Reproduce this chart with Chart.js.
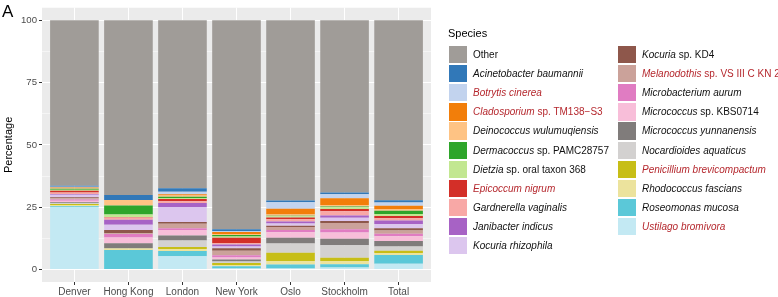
<!DOCTYPE html>
<html>
<head>
<meta charset="utf-8">
<script src="https://cdn.jsdelivr.net/npm/chart.js@4/dist/chart.umd.min.js"></script>
<style>
  body { margin: 0; background: #fff; }
  #wrap { position: relative; width: 778px; height: 297px; overflow: hidden; background: #fff; font-family: "Liberation Sans", Arial, sans-serif; }
  #c { position: absolute; left: 0; top: 0; }
  #tag { position: absolute; left: 2px; top: 2.6px; font-size: 17px; line-height: 1; color: #000; }
  #legTitle { position: absolute; left: 448px; top: 27.7px; font-size: 11px; line-height: 1; color: #000; }
  .key { position: absolute; width: 17.5px; height: 17.3px; }
  .lab { position: absolute; height: 17.3px; line-height: 17.3px; font-size: 10px; white-space: nowrap; color: #111; }
  .lab.red { color: #B5282E; }
</style>
</head>
<body>
<div id="wrap">
  <canvas id="c" width="778" height="297"></canvas>
  <div id="tag">A</div>
  <div id="legTitle">Species</div>
</div>
<script>
// ---- data ----
const cities = ['Denver', 'Hong Kong', 'London', 'New York', 'Oslo', 'Stockholm', 'Total'];
const yTicks = [0, 25, 50, 75, 100];

const other                  = [66.4, 70.1, 67.4, 83.8, 72.3, 69.1, 72.2];
const acinetobacter          = [0.4, 2.0, 1.4, 0.8, 0.7, 0.7, 0.9];
const botrytis               = [0.3, 0.0, 1.0, 0.3, 2.6, 1.6, 1.3];
const cladosporium           = [0.3, 0.0, 0.5, 0.8, 2.3, 2.7, 1.3];
const deinococcus            = [0.2, 2.2, 0.5, 0.4, 0.5, 0.6, 0.7];
const dermacoccus            = [0.4, 3.6, 0.5, 0.6, 0.2, 0.3, 1.3];
const dietzia                = [0.4, 1.0, 0.4, 0.6, 0.5, 0.7, 0.8];
const epicoccum              = [0.7, 0.2, 0.9, 2.2, 0.7, 0.9, 0.9];
const gardnerella            = [0.6, 0.9, 0.7, 0.5, 0.9, 1.7, 0.9];
const janibacter             = [0.3, 2.0, 1.6, 0.8, 0.8, 0.9, 1.4];
const kocuriaRhizophila      = [1.0, 2.1, 6.0, 0.7, 0.9, 1.3, 1.7];
const kocuriaKD4             = [0.4, 1.3, 0.7, 1.0, 0.5, 0.8, 0.9];
const melanodothis           = [0.5, 0.3, 1.8, 1.8, 1.2, 2.5, 1.3];
const microbacterium         = [0.5, 1.5, 0.7, 0.9, 0.9, 1.3, 1.0];
const micrococcusKBS         = [0.6, 2.3, 2.2, 0.8, 2.3, 2.6, 2.0];
const micrococcusYunnanensis = [0.3, 1.9, 2.1, 0.8, 2.3, 2.6, 2.2];
const nocardioides           = [0.4, 0.3, 2.6, 0.6, 3.7, 5.0, 1.7];
const penicillium            = [0.4, 0.2, 0.8, 0.8, 3.3, 1.3, 0.9];
const rhodococcus            = [0.5, 0.3, 0.8, 0.5, 1.4, 1.3, 0.8];
const roseomonas             = [0.3, 7.8, 2.1, 0.9, 1.6, 1.3, 3.5];
const ustilago               = [25.1, 0.0, 5.3, 0.4, 0.4, 0.8, 2.3];

// legend text: italic part, plain part
const speciesItalic = ['', 'Acinetobacter baumannii', 'Botrytis cinerea', 'Cladosporium', 'Deinococcus wulumuqiensis',
  'Dermacoccus', 'Dietzia', 'Epicoccum nigrum', 'Gardnerella vaginalis', 'Janibacter indicus', 'Kocuria rhizophila',
  'Kocuria', 'Melanodothis', 'Microbacterium aurum', 'Micrococcus', 'Micrococcus yunnanensis', 'Nocardioides aquaticus',
  'Penicillium brevicompactum', 'Rhodococcus fascians', 'Roseomonas mucosa', 'Ustilago bromivora'];
const speciesPlain = ['Other', '', '', ' sp. TM138\u2212S3', '', ' sp. PAMC28757', ' sp. oral taxon 368', '', '', '', '',
  ' sp. KD4', ' sp. VS III C KN 2', '', ' sp. KBS0714', '', '', '', '', '', ''];
const fungi = ['Botrytis cinerea', 'Cladosporium', 'Epicoccum nigrum', 'Melanodothis', 'Penicillium brevicompactum', 'Ustilago bromivora'];

const speciesValues = [other, acinetobacter, botrytis, cladosporium, deinococcus, dermacoccus, dietzia, epicoccum,
  gardnerella, janibacter, kocuriaRhizophila, kocuriaKD4, melanodothis, microbacterium, micrococcusKBS,
  micrococcusYunnanensis, nocardioides, penicillium, rhodococcus, roseomonas, ustilago];

const colors = ['#A09C98', '#3178B8', '#C2D3EE', '#F27E0A', '#FEC384', '#2EA52A', '#C2E791', '#D32F28', '#F8A8A6',
  '#A762C5', '#DCC6EE', '#8E574B', '#CBA29A', '#E07CC2', '#F8BED9', '#807C7B', '#D3D1D0', '#C7BE17', '#ECE39D',
  '#5BC8D8', '#C3E9F3'];

// ---- chart ----
const minorTicks = [12.5, 37.5, 62.5, 87.5];

const datasets = speciesValues.map((vals, i) => ({
  label: (speciesItalic[i] + speciesPlain[i]).trim(),
  data: vals.map((v, j) => ({ x: j, y: v })),
  backgroundColor: colors[i],
  borderWidth: 0,
  barPercentage: 0.9,
  categoryPercentage: 1.0
})).reverse();

const panelBg = {
  id: 'panelBg',
  beforeDraw(chart) {
    const { ctx, chartArea: a } = chart;
    ctx.save();
    ctx.fillStyle = '#EBEBEB';
    ctx.fillRect(a.left, a.top, a.right - a.left, a.bottom - a.top);
    ctx.restore();
  }
};

new Chart(document.getElementById('c'), {
  type: 'bar',
  data: { datasets },
  plugins: [panelBg],
  options: {
    responsive: false,
    animation: false,
    layout: { padding: { left: 0, right: 347, top: 0, bottom: 0 } },
    plugins: { legend: { display: false }, tooltip: { enabled: false } },
    scales: {
      x: {
        type: 'linear',
        stacked: true,
        offset: false,
        min: -0.6,
        max: 6.6,
        afterBuildTicks(s) { s.ticks = cities.map((c, i) => ({ value: i })); },
        afterFit(s) { s.height = 15; },
        ticks: {
          callback: (v) => cities[v],
          color: '#4D4D4D',
          font: { family: 'Liberation Sans', size: 10 },
          padding: 1,
          maxRotation: 0,
          autoSkip: false
        },
        grid: { offset: false, color: '#FFFFFF', lineWidth: 1, tickLength: 3, tickColor: '#333333', drawTicks: true },
        border: { display: false }
      },
      y: {
        stacked: true,
        min: -5,
        max: 105,
        afterBuildTicks(s) {
          s.ticks = yTicks.concat(minorTicks).sort((a, b) => a - b).map(v => ({ value: v }));
        },
        afterFit(s) { s.width = 42; },
        ticks: {
          callback: (v) => (yTicks.includes(v) ? String(v) : ''),
          color: '#4D4D4D',
          font: { family: 'Liberation Sans', size: 9.6 },
          padding: 2,
          autoSkip: false
        },
        grid: {
          color: '#FFFFFF',
          lineWidth: (c) => (yTicks.includes(c.tick && c.tick.value) ? 1 : 0.5),
          tickLength: 3,
          tickColor: (c) => (yTicks.includes(c.tick && c.tick.value) ? '#333333' : 'rgba(0,0,0,0)')
        },
        border: { display: false },
        title: {
          display: true,
          text: 'Percentage',
          color: '#000',
          font: { family: 'Liberation Sans', size: 11 },
          padding: { top: 2, bottom: 0 }
        }
      }
    }
  }
});

// ---- legend (HTML, mixed italic/roman) ----
const wrap = document.getElementById('wrap');
const perCol = 11;
speciesValues.forEach((_, i) => {
  const col = Math.floor(i / perCol), row = i % perCol;
  const kx = col === 0 ? 449 : 618;
  const ky = 46 + row * 19.1;
  const key = document.createElement('div');
  key.className = 'key';
  key.style.left = kx + 'px';
  key.style.top = ky + 'px';
  key.style.background = colors[i];
  wrap.appendChild(key);
  const lab = document.createElement('div');
  lab.className = 'lab' + (fungi.includes(speciesItalic[i]) ? ' red' : '');
  lab.style.left = (kx + 24) + 'px';
  lab.style.top = ky + 'px';
  if (speciesItalic[i]) {
    const it = document.createElement('i');
    it.textContent = speciesItalic[i];
    lab.appendChild(it);
  }
  if (speciesPlain[i]) lab.appendChild(document.createTextNode(speciesPlain[i]));
  wrap.appendChild(lab);
});
</script>
</body>
</html>
